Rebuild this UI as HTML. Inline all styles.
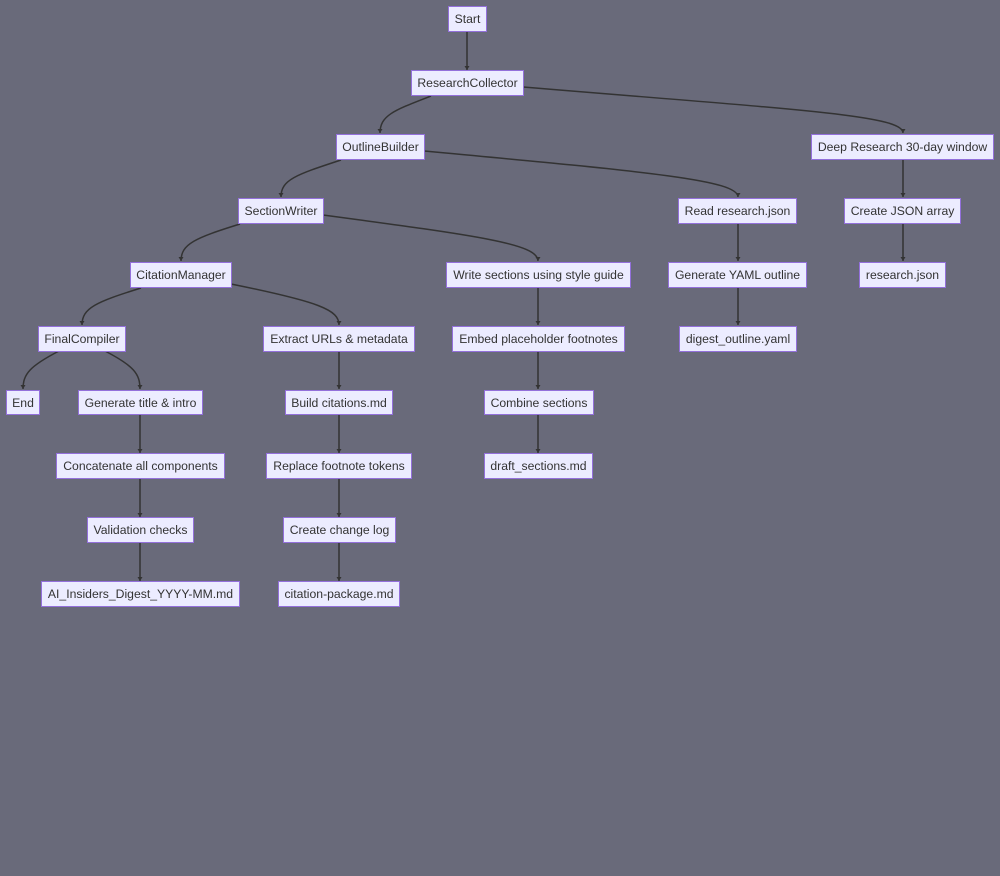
<!DOCTYPE html>
<html><head><meta charset="utf-8"><style>
html,body{margin:0;padding:0;background:#696a7a;width:1000px;height:876px;overflow:hidden}
.n{position:absolute;box-sizing:border-box;background:#ececff;border:1px solid #9370db;font:12.2px "Liberation Sans",sans-serif;color:#333;display:flex;align-items:center;justify-content:center;white-space:nowrap}
svg{position:absolute;left:0;top:0}
</style></head><body>
<svg width="1000" height="876">
<g stroke="#333" stroke-width="1.5" fill="none">
<path d="M467,31 V70"/>
<path d="M431,96 C395,110 380,115 380,133"/>
<path d="M523,87 C800,110 903,115 903,133"/>
<path d="M341,160 C295,175 281,180 281,197"/>
<path d="M424,151 C650,172 738,180 738,197"/>
<path d="M903,159 V197"/>
<path d="M240,224 C195,238 181,244 181,261"/>
<path d="M323,215 C480,236 538,244 538,261"/>
<path d="M738,223 V261"/>
<path d="M903,223 V261"/>
<path d="M141,288 C96,302 82,308 82,325"/>
<path d="M231,284 C320,302 339,310 339,325"/>
<path d="M538,287 V325"/>
<path d="M738,287 V325"/>
<path d="M59,351 C30,366 23,374 23,389"/>
<path d="M105,351 C134,366 140,374 140,389"/>
<path d="M339,351 V389"/>
<path d="M538,351 V389"/>
<path d="M140,414 V453"/>
<path d="M339,414 V453"/>
<path d="M538,414 V453"/>
<path d="M140,478 V517"/>
<path d="M339,478 V517"/>
<path d="M140,542 V581"/>
<path d="M339,542 V581"/>
</g>
<g fill="#333">
<path d="M464.5,66 h5 l-2.5,4z"/>
<path d="M377.5,129 h5 l-2.5,4z"/><path d="M900.5,129 h5 l-2.5,4z"/>
<path d="M278.5,193 h5 l-2.5,4z"/><path d="M735.5,193 h5 l-2.5,4z"/><path d="M900.5,193 h5 l-2.5,4z"/>
<path d="M178.5,257 h5 l-2.5,4z"/><path d="M535.5,257 h5 l-2.5,4z"/><path d="M735.5,257 h5 l-2.5,4z"/><path d="M900.5,257 h5 l-2.5,4z"/>
<path d="M79.5,321 h5 l-2.5,4z"/><path d="M336.5,321 h5 l-2.5,4z"/><path d="M535.5,321 h5 l-2.5,4z"/><path d="M735.5,321 h5 l-2.5,4z"/>
<path d="M20.5,385 h5 l-2.5,4z"/><path d="M137.5,385 h5 l-2.5,4z"/><path d="M336.5,385 h5 l-2.5,4z"/><path d="M535.5,385 h5 l-2.5,4z"/>
<path d="M137.5,449 h5 l-2.5,4z"/><path d="M336.5,449 h5 l-2.5,4z"/><path d="M535.5,449 h5 l-2.5,4z"/>
<path d="M137.5,513 h5 l-2.5,4z"/><path d="M336.5,513 h5 l-2.5,4z"/>
<path d="M137.5,577 h5 l-2.5,4z"/><path d="M336.5,577 h5 l-2.5,4z"/>
</g>
</svg>
<div class="n" style="left:448px;top:6px;width:39px;height:26px">Start</div>
<div class="n" style="left:411px;top:70px;width:113px;height:26px">ResearchCollector</div>
<div class="n" style="left:336px;top:134px;width:89px;height:26px">OutlineBuilder</div>
<div class="n" style="left:811px;top:134px;width:183px;height:26px">Deep Research 30-day window</div>
<div class="n" style="left:238px;top:198px;width:86px;height:26px">SectionWriter</div>
<div class="n" style="left:678px;top:198px;width:119px;height:26px">Read research.json</div>
<div class="n" style="left:844px;top:198px;width:117px;height:26px">Create JSON array</div>
<div class="n" style="left:130px;top:262px;width:102px;height:26px">CitationManager</div>
<div class="n" style="left:446px;top:262px;width:185px;height:26px">Write sections using style guide</div>
<div class="n" style="left:668px;top:262px;width:139px;height:26px">Generate YAML outline</div>
<div class="n" style="left:859px;top:262px;width:87px;height:26px">research.json</div>
<div class="n" style="left:38px;top:326px;width:88px;height:26px">FinalCompiler</div>
<div class="n" style="left:263px;top:326px;width:152px;height:26px">Extract URLs &amp; metadata</div>
<div class="n" style="left:452px;top:326px;width:173px;height:26px">Embed placeholder footnotes</div>
<div class="n" style="left:679px;top:326px;width:118px;height:26px">digest_outline.yaml</div>
<div class="n" style="left:6px;top:390px;width:34px;height:25px">End</div>
<div class="n" style="left:78px;top:390px;width:125px;height:25px">Generate title &amp; intro</div>
<div class="n" style="left:285px;top:390px;width:108px;height:25px">Build citations.md</div>
<div class="n" style="left:484px;top:390px;width:110px;height:25px">Combine sections</div>
<div class="n" style="left:56px;top:453px;width:169px;height:26px">Concatenate all components</div>
<div class="n" style="left:266px;top:453px;width:146px;height:26px">Replace footnote tokens</div>
<div class="n" style="left:484px;top:453px;width:109px;height:26px">draft_sections.md</div>
<div class="n" style="left:87px;top:517px;width:107px;height:26px">Validation checks</div>
<div class="n" style="left:283px;top:517px;width:113px;height:26px">Create change log</div>
<div class="n" style="left:41px;top:581px;width:199px;height:26px">AI_Insiders_Digest_YYYY-MM.md</div>
<div class="n" style="left:278px;top:581px;width:122px;height:26px">citation-package.md</div>
</body></html>
